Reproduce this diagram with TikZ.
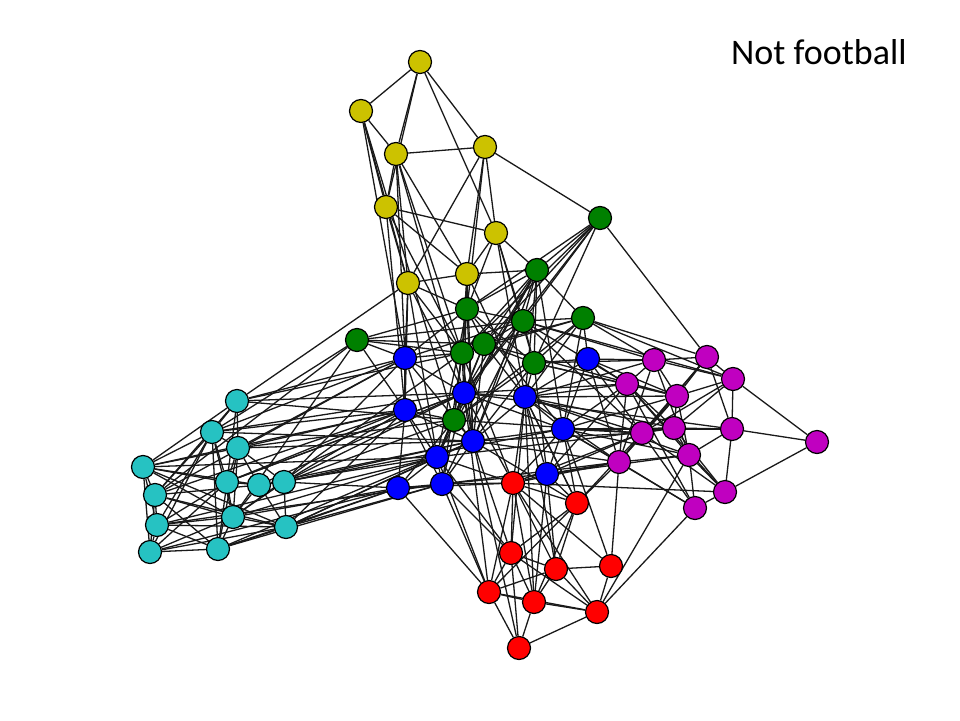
\documentclass[tikz,border=0pt]{standalone}
\usepackage{fontspec}
\setmainfont{Carlito}
\usetikzlibrary{backgrounds}
\definecolor{cY}{RGB}{204,194,0}
\definecolor{cG}{RGB}{0,128,0}
\definecolor{cB}{RGB}{0,0,255}
\definecolor{cR}{RGB}{255,0,0}
\definecolor{cM}{RGB}{192,0,192}
\definecolor{cC}{RGB}{38,194,194}
\tikzset{
  vtx/.style={circle,draw=black,line width=1.2pt,minimum size=23pt,inner sep=0pt},
  yv/.style={vtx,fill=cY}, gv/.style={vtx,fill=cG}, bv/.style={vtx,fill=cB},
  rv/.style={vtx,fill=cR}, mv/.style={vtx,fill=cM}, cv/.style={vtx,fill=cC},
  edge/.style={draw=black!90,line width=1.3pt}
}
\begin{document}
\begin{tikzpicture}[x=1pt,y=-1pt]
\useasboundingbox (0,0) rectangle (960,720);
% yellow
\node[yv] (Y1) at (420,62) {};
\node[yv] (Y2) at (361,111) {};
\node[yv] (Y3) at (396,154) {};
\node[yv] (Y4) at (485,147) {};
\node[yv] (Y5) at (386,207) {};
\node[yv] (Y6) at (496,233) {};
\node[yv] (Y7) at (408,283) {};
\node[yv] (Y8) at (467,274) {};
% green
\node[gv] (G1) at (600,218) {};
\node[gv] (G2) at (537,270) {};
\node[gv] (G3) at (467,309) {};
\node[gv] (G4) at (523,321) {};
\node[gv] (G5) at (583,318) {};
\node[gv] (G6) at (357,340) {};
\node[gv] (G7) at (462,353) {};
\node[gv] (G8) at (484,344) {};
\node[gv] (G9) at (534,363) {};
\node[gv] (G10) at (454,420) {};
% blue
\node[bv] (B1) at (405,358) {};
\node[bv] (B2) at (588,359) {};
\node[bv] (B3) at (464,393) {};
\node[bv] (B4) at (525,397) {};
\node[bv] (B5) at (405,410) {};
\node[bv] (B6) at (563,429) {};
\node[bv] (B7) at (473,441) {};
\node[bv] (B8) at (437,457) {};
\node[bv] (B9) at (547,474) {};
\node[bv] (B10) at (442,484) {};
\node[bv] (B11) at (398,488) {};
% red
\node[rv] (R1) at (513,483) {};
\node[rv] (R2) at (577,503) {};
\node[rv] (R3) at (511,553) {};
\node[rv] (R4) at (556,569) {};
\node[rv] (R5) at (611,566) {};
\node[rv] (R6) at (489,592) {};
\node[rv] (R7) at (534,602) {};
\node[rv] (R8) at (597,612) {};
\node[rv] (R9) at (519,648) {};
% magenta
\node[mv] (M1) at (654,360) {};
\node[mv] (M2) at (707,357) {};
\node[mv] (M3) at (627,384) {};
\node[mv] (M4) at (733,379) {};
\node[mv] (M5) at (677,396) {};
\node[mv] (M6) at (642,433) {};
\node[mv] (M7) at (674,428) {};
\node[mv] (M8) at (732,429) {};
\node[mv] (M9) at (817,442) {};
\node[mv] (M10) at (619,462) {};
\node[mv] (M11) at (689,455) {};
\node[mv] (M12) at (725,492) {};
\node[mv] (M13) at (695,508) {};
% cyan
\node[cv] (C1) at (237,401) {};
\node[cv] (C2) at (212,432) {};
\node[cv] (C3) at (238,448) {};
\node[cv] (C4) at (143,467) {};
\node[cv] (C5) at (227,482) {};
\node[cv] (C6) at (259,485) {};
\node[cv] (C7) at (284,482) {};
\node[cv] (C8) at (155,495) {};
\node[cv] (C9) at (233,517) {};
\node[cv] (C10) at (286,527) {};
\node[cv] (C11) at (157,525) {};
\node[cv] (C12) at (150,552) {};
\node[cv] (C13) at (218,549) {};
% title
\node[anchor=base west,inner sep=0pt,font=\fontsize{36}{40}\selectfont] (title) at (731,64) {Not football};
\begin{pgfonlayer}{background}
\foreach \a/\b in {%
 Y1/Y2,Y1/Y3,Y1/Y5,Y1/Y4,Y1/Y6,Y2/Y3,Y2/Y7,Y2/Y5,Y3/Y4,Y3/Y5,Y3/Y7,Y3/Y8,Y5/Y6,Y5/Y7,Y5/Y8,Y4/Y6,Y4/Y8,Y4/Y7,Y6/Y8,Y7/Y8,%
 Y4/G1,Y6/G2,Y8/G2,Y6/G4,Y6/G9,Y3/G7,Y3/B3,Y2/B1,Y5/B5,Y7/B1,Y7/B5,Y7/B8,Y7/G7,Y8/G3,Y8/G7,Y8/B3,Y8/B7,Y4/G3,Y2/G10,Y6/B4,%
 G1/G2,G1/G4,G1/G9,G1/G8,G1/G3,G1/G7,G2/G3,G2/G4,G2/G5,G2/G9,G2/G7,G2/G8,G3/G4,G3/G7,G3/G8,G3/G9,G3/G10,G4/G5,G4/G8,G4/G9,%
 G4/G6,G5/G8,G5/G9,G5/G7,G6/G7,G6/G8,G6/G3,G7/G8,G7/G10,G8/G9,G8/G10,G9/G10,G5/G10,%
 G1/M2,G5/M1,G5/M2,G5/M4,G5/B2,G6/B5,G6/C9,G6/C8,G6/B1,G9/B2,G9/M3,G9/B4,G9/M1,G2/B6,G2/B3,G7/B1,G7/B3,G8/B4,G4/B7,G4/M3,%
 G3/B1,G10/B5,G10/B7,G10/B8,G10/C3,G10/C1,G10/C7,G10/B11,G10/B3,G4/B1,G8/M5,G2/B4,G4/M1,G3/B6,G7/R1,%
 B1/B5,B1/B3,B1/B8,B1/B7,B3/B7,B3/B4,B3/B8,B3/B10,B4/B6,B4/B9,B4/B7,B5/B11,B5/B8,B5/B7,B6/B9,B6/B7,B7/B8,B7/B10,B8/B10,%
 B8/B11,B9/B10,B2/B4,B2/B6,B3/B6,B10/B11,B5/B10,%
 B1/C1,B1/C3,B5/C2,B5/C7,B11/C10,B11/C7,B11/C9,B8/C6,B7/C13,B3/C2,B3/C5,B10/R1,B9/R1,B9/R2,B9/M10,B6/M6,B6/M3,B6/M10,%
 B2/M1,B2/M3,B2/M5,B4/M7,B4/M6,B7/R3,B8/R3,B10/R6,B11/R6,B7/M10,B6/R1,B9/M11,B3/M8,B4/R2,%
 C1/C2,C1/C3,C1/C4,C1/C5,C1/C8,C2/C3,C2/C4,C2/C5,C2/C8,C2/C9,C2/C11,C2/C12,C2/C13,C3/C5,C3/C6,C3/C7,C3/C9,C3/C4,C4/C5,%
 C4/C6,C4/C8,C4/C11,C4/C12,C4/C9,C4/C10,C5/C6,C5/C9,C5/C11,C5/C12,C5/C13,C6/C7,C6/C9,C6/C10,C6/C8,C7/C10,C7/C9,C8/C11,%
 C8/C12,C8/C9,C8/C13,C8/C10,C9/C13,C9/C10,C9/C11,C9/C12,C10/C11,C10/C12,C10/C13,C11/C12,C11/C13,C12/C13,C13/C3,%
 C1/G7,C2/G6,C3/B5,C4/B5,C7/B1,C7/B6,C10/B8,C10/B10,C9/G7,C6/B7,C5/B3,C13/B11,C12/B11,C11/B10,C8/B1,C1/Y7,%
 C1/B3,C2/B7,C4/B8,C5/B5,C6/B3,C7/B3,C7/B7,C10/B7,C10/B5,C8/B5,C11/B8,C3/B7,C2/B1,C9/B8,C13/B10,%
 M1/M2,M1/M3,M1/M5,M1/M10,M1/M11,M1/M4,M2/M4,M2/M5,M2/M6,M2/M10,M2/M8,M3/M5,M3/M10,M3/M12,M3/M13,M3/M7,M4/M5,M4/M7,%
 M4/M8,M4/M9,M4/M6,M5/M6,M5/M10,M5/M7,M5/M11,M6/M7,M6/M13,M6/M12,M6/M10,M7/M8,M7/M11,M7/M12,M8/M9,M8/M11,M8/M12,M9/M12,%
 M10/M13,M10/M11,M11/M12,M11/M13,M12/M13,M3/M11,%
 M10/R2,M10/R5,M13/R8,M6/R2,M3/B9,M1/B4,M4/G4,M7/B6,M8/B6,M5/B4,M11/B4,M12/R1,M13/B6,%
 B4/M3,B4/M10,B6/M5,B6/M11,B9/M6,B7/M6,G9/M5,G4/M6,B3/M3,B10/M10,G10/M6,R1/M10,R1/M6,B2/M10,B2/M6,B8/M7,%
 G2/B7,G2/B8,G2/G10,G3/B7,G3/B8,G4/B3,G4/B10,G5/B4,G5/B6,G7/B7,G7/B10,G8/B7,G8/B8,G9/B7,G9/B9,G1/B3,%
 Y6/G3,Y7/G3,Y5/G7,Y3/B1,Y7/B3,Y8/B4,%
 R1/R2,R1/R3,R1/R6,R1/R7,R1/R4,R1/R8,R2/R3,R2/R7,R2/R4,R2/R6,R3/R4,R3/R6,R3/R7,R3/R9,R4/R5,R4/R6,R4/R7,R4/R8,R5/R8,%
 R5/R1,R6/R7,R6/R9,R6/R8,R7/R9,R7/R8,R8/R9,R3/R8,%
 R1/B8,R1/B3,R1/B11,R2/B6,R2/B4,R3/B10,R5/B6,R7/B9,R4/B9,R8/M11,R4/B4,R6/B8,R9/B7,%
 R1/B4,R2/B7,R3/B4,R6/B3,R7/B4%
}{\path[edge] (\a) -- (\b);}
\end{pgfonlayer}
\end{tikzpicture}
\end{document}
